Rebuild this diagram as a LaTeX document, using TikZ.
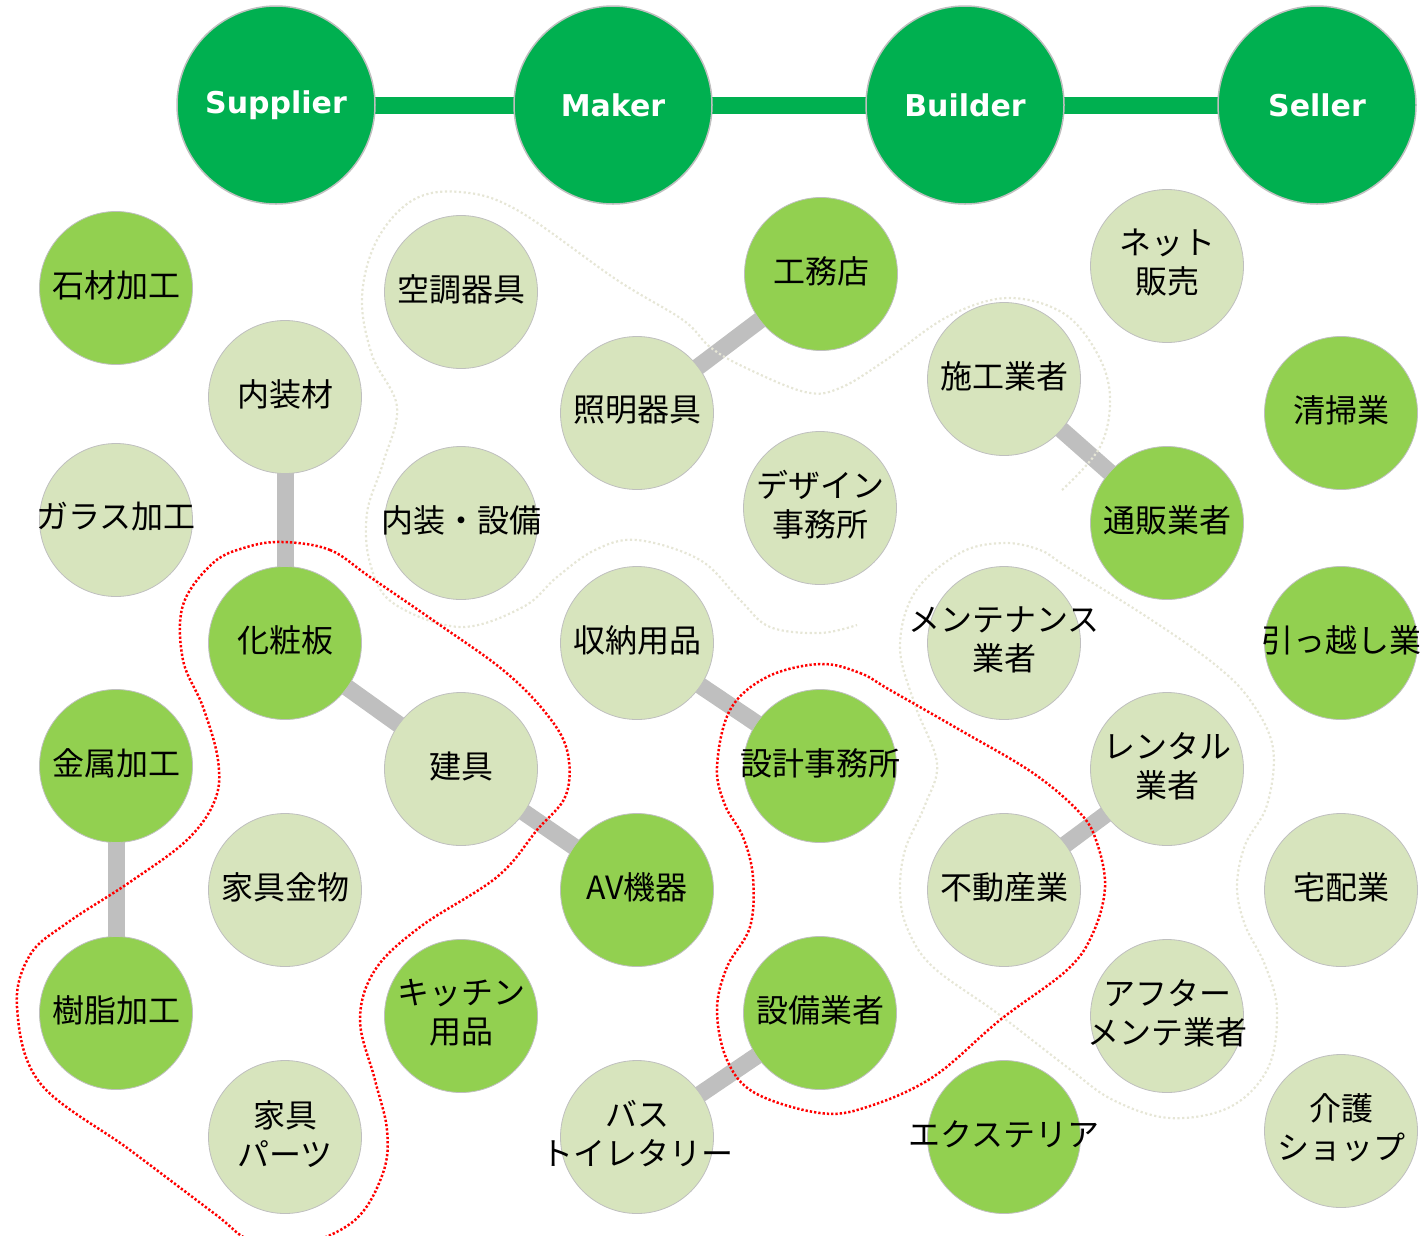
\documentclass[tikz,border=0pt]{standalone}
\usepackage{fontspec}
\newfontfamily\jpfont{Noto Sans CJK JP}
\newfontfamily\hdfont{DejaVu Sans}
\usetikzlibrary{backgrounds}
\definecolor{dkgreen}{HTML}{00B050}
\definecolor{ltgreen}{HTML}{92D050}
\definecolor{pale}{HTML}{D7E4BD}
\definecolor{rim}{HTML}{BFBFBF}
\definecolor{beige}{HTML}{E6E6D6}
\definecolor{dotred}{HTML}{FF0000}
\tikzset{
 headc/.style={circle, fill=dkgreen, draw=rim, line width=1.5pt, minimum size=198pt, inner sep=0pt},
 bubg/.style={circle, fill=ltgreen, draw=rim, line width=0.8pt, minimum size=153pt, inner sep=0pt},
 bubp/.style={circle, fill=pale, draw=rim, line width=0.8pt, minimum size=153pt, inner sep=0pt},
 lbl/.style={align=center, font=\jpfont\fontsize{32}{39}\selectfont, inner sep=0pt, text=black, yshift=3pt},
 hlbl/.style={font=\hdfont\bfseries\fontsize{30}{36}\selectfont, text=white, inner sep=0pt},
 link/.style={draw=rim, line width=17pt},
 toplink/.style={draw=dkgreen, line width=17pt},
 soft/.style={draw=beige, line width=2.2pt, dash pattern=on 2.2pt off 2.5pt},
 redline/.style={draw=dotred, line width=2.5pt, dash pattern=on 2.3pt off 2pt},
}
\newcommand{\mkbub}[4]{\node[#1] (#2) at (#3) {}; \node[lbl] (#2t) at (#2.center) {#4};}
\newcommand{\mkhead}[3]{\node[headc] (#1) at (#2) {}; \node[hlbl] (#1t) at (#1.center) {#3};}
\begin{document}
\begin{tikzpicture}[x=1pt,y=-1pt]
\useasboundingbox (0,0) rectangle (1421,1235);
\clip (0,0) rectangle (1421,1235);
% header
\mkhead{sup}{276,105}{Supplier}
\mkhead{mak}{613,105}{Maker}
\mkhead{bui}{965,105}{Builder}
\mkhead{sel}{1317,105}{Seller}
% bubbles
\mkbub{bubg}{sekizai}{116,288}{石材加工}
\mkbub{bubp}{kucho}{461,292}{空調器具}
\mkbub{bubg}{koumu}{821,274}{工務店}
\mkbub{bubp}{net}{1167,266}{ネット\\販売}
\mkbub{bubp}{naisozai}{285,397}{内装材}
\mkbub{bubp}{shomei}{637,413}{照明器具}
\mkbub{bubp}{seko}{1004,379}{施工業者}
\mkbub{bubg}{seiso}{1341,413}{清掃業}
\mkbub{bubp}{glass}{116,520}{ガラス加工}
\mkbub{bubp}{naiso}{461,523}{内装・設備}
\mkbub{bubp}{design}{820,508}{デザイン\\事務所}
\mkbub{bubg}{tsuhan}{1167,523}{通販業者}
\mkbub{bubg}{kesho}{285,643}{化粧板}
\mkbub{bubp}{shuno}{637,643}{収納用品}
\mkbub{bubp}{maint}{1004,643}{メンテナンス\\業者}
\mkbub{bubg}{hikkoshi}{1341,643}{引っ越し業}
\mkbub{bubg}{kinzoku}{116,766}{金属加工}
\mkbub{bubp}{tategu}{461,769}{建具}
\mkbub{bubg}{sekkei}{820,766}{設計事務所}
\mkbub{bubp}{rental}{1167,769}{レンタル\\業者}
\mkbub{bubp}{kanamono}{285,890}{家具金物}
\mkbub{bubg}{av}{637,890}{AV機器}
\mkbub{bubp}{fudosan}{1004,890}{不動産業}
\mkbub{bubp}{takuhai}{1341,890}{宅配業}
\mkbub{bubg}{jushi}{116,1013}{樹脂加工}
\mkbub{bubg}{kitchen}{461,1016}{キッチン\\用品}
\mkbub{bubg}{setsubi}{820,1013}{設備業者}
\mkbub{bubp}{after}{1167,1016}{アフター\\メンテ業者}
\mkbub{bubp}{parts}{285,1137}{家具\\パーツ}
\mkbub{bubp}{bath}{637,1137}{バス\\トイレタリー}
\mkbub{bubg}{exterior}{1004,1137}{エクステリア}
\mkbub{bubp}{kaigo}{1341,1131}{介護\\ショップ}
% connectors
\begin{pgfonlayer}{background}
\draw[toplink] (sup.center) -- (mak.center);
\draw[toplink] (mak.center) -- (bui.center);
\draw[toplink] (bui.center) -- (sel.center);
\draw[link] (naisozai.center) -- (kesho.center);
\draw[link] (kesho.center) -- (tategu.center);
\draw[link] (tategu.center) -- (av.center);
\draw[link] (shomei.center) -- (koumu.center);
\draw[link] (shuno.center) -- (sekkei.center);
\draw[link] (setsubi.center) -- (bath.center);
\draw[link] (seko.center) -- (tsuhan.center);
\draw[link] (fudosan.center) -- (rental.center);
\draw[link] (kinzoku.center) -- (jushi.center);
\end{pgfonlayer}
% faint outlines
\draw[soft] plot[smooth, tension=0.6] coordinates {
(1062,490) (1100,447) (1110,397) (1097,353) (1063,313) (1007,298) (947,317)
(886,360) (840,388) (805,392) (744,367) (710,347) (683,320) (617,280) (517,210)
(460,192) (413,200) (377,240) (362,297) (372,355) (397,407) (383,463) (367,513)
(370,563) (393,603) (460,627) (523,607) (557,577) (595,550) (637,540) (700,560)
(740,600) (770,627) (820,633) (857,625)};
\draw[soft] plot[smooth cycle, tension=0.6] coordinates {
(1003,543) (1040,550) (1067,567) (1147,617) (1213,663) (1250,700) (1273,748)
(1267,805) (1245,845) (1237,887) (1245,925) (1265,965) (1277,1010) (1268,1068)
(1230,1107) (1170,1118) (1113,1100) (1067,1067) (997,1013) (933,967) (908,930)
(900,893) (905,850) (925,805) (937,763) (915,705) (900,647) (915,592) (960,553)};
% red outlines
\draw[redline] plot[smooth cycle, tension=0.6] coordinates {
(283,542) (330,550) (370,577) (437,623) (503,670) (545,712) (567,750) (566,795)
(537,830) (497,877) (420,927) (375,970) (360,1020) (375,1080) (387,1130)
(383,1173) (355,1220) (300,1245) (250,1240) (215,1214) (130,1150) (40,1083)
(17,1007) (30,955) (67,923) (130,882) (187,840) (215,800) (218,760) (203,707)
(183,660) (183,605) (213,563) (247,547)};
\draw[redline] plot[smooth cycle, tension=0.6] coordinates {
(820,664) (860,673) (890,690) (960,730) (1033,773) (1080,813) (1097,843)
(1105,887) (1093,933) (1067,970) (1000,1020) (933,1077) (867,1107) (820,1113)
(755,1093) (727,1060) (717,1010) (727,967) (750,927) (753,877) (743,837)
(725,805) (717,767) (730,710) (767,677)};
\end{tikzpicture}
\end{document}
